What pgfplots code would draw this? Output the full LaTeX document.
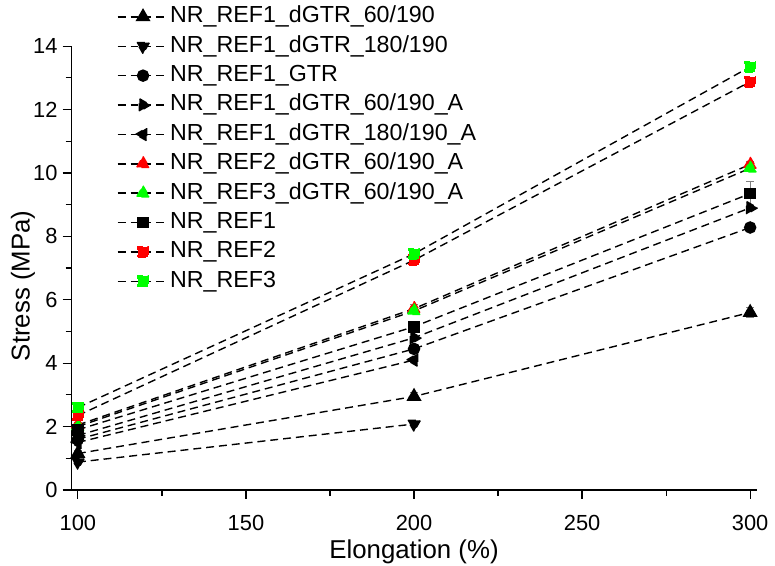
\documentclass[border=0pt]{standalone}
\usepackage{pgfplots}
\pgfplotsset{compat=1.18}
\usepackage{fontspec}
\setmainfont{Liberation Sans}
\definecolor{myred}{RGB}{255,0,0}
\definecolor{mygreen}{RGB}{0,255,0}
\begin{document}
\begin{tikzpicture}
\begin{axis}[scale only axis,width=345pt,height=223.5pt,
  xmin=98.1,xmax=301.9,ymin=0,ymax=14,
  axis x line*=bottom,axis y line*=left,
  xtick={100,150,...,300},ytick={0,2,...,14},
  minor x tick num=1,minor y tick num=1,
  tick align=outside,major tick length=4.5pt,minor tick length=3pt,
  tick style={black,line width=0.6pt},axis line style={line width=0.6pt},
  ticklabel style={font=\fontsize{11}{12}\selectfont},
  xticklabel shift=4.5pt,
  yticklabel style={xshift=1pt},
  /pgf/number format/assume math mode=true,
  xlabel={Elongation (\%)},ylabel={Stress (MPa)},
  label style={font=\fontsize{13}{15}\selectfont},
  xlabel style={inner ysep=1pt},xlabel shift=0pt,
  ylabel style={at={(ticklabel cs:0.46)},inner ysep=5.5pt},ylabel shift=-9.9pt,
  legend cell align=left,
  legend style={draw=none,fill=none,at={(0.057,1.105)},anchor=north west,
    font=\fontsize{11.7}{13}\selectfont,row sep=1.8pt,
    nodes={inner sep=0.5pt,text height=9pt,text depth=3pt}},
  legend image code/.code={\draw[mark repeat=2,mark phase=2] plot coordinates {(0cm,0cm) (0.45cm,0cm) (0.9cm,0cm)};},
  every axis plot/.append style={black,line width=0.7pt,dash pattern=on 4pt off 2.5pt,
    mark options={solid}},
  tri/.style={mark=triangle*,mark size=3.7pt},
  sq/.style={mark=square*,mark size=2.6pt},
  err/.style={error bars/.cd,y dir=both,y explicit,
    error bar style={gray,solid,line width=0.5pt},
    error mark options={rotate=90,gray,mark size=2pt,solid}}]
\addplot[tri,err] coordinates {(100,1.15) +- (0,0.1) (200,2.95) +- (0,0.12) (300,5.6) +- (0,0.15)};
\addlegendentry{NR\_REF1\_dGTR\_60/190}
\addplot[tri,mark options={rotate=180}] coordinates {(100,0.88) (200,2.08)};
\addlegendentry{NR\_REF1\_dGTR\_180/190}
\addplot[mark=*,mark size=2.8pt] coordinates {(100,1.6) (200,4.45) (300,8.28)};
\addlegendentry{NR\_REF1\_GTR}
\addplot[tri,mark options={rotate=-90}] coordinates {(100,1.72) (200,4.8) (300,8.9)};
\addlegendentry{NR\_REF1\_dGTR\_60/190\_A}
\addplot[tri,mark options={rotate=90}] coordinates {(100,1.5) (200,4.1)};
\addlegendentry{NR\_REF1\_dGTR\_180/190\_A}
\addplot[tri,mark options={fill=myred,draw=myred},err] coordinates {(100,2.05) +- (0,0.08) (200,5.72) +- (0,0.15) (300,10.27) +- (0,0.1)};
\addlegendentry{NR\_REF2\_dGTR\_60/190\_A}
\addplot[tri,mark options={fill=mygreen,draw=mygreen}] coordinates {(100,2.0) (200,5.65) (300,10.15)};
\addlegendentry{NR\_REF3\_dGTR\_60/190\_A}
\addplot[sq,err] coordinates {(100,1.9) +- (0,0.1) (200,5.15) +- (0,0.1) (300,9.35) +- (0,0.37)};
\addlegendentry{NR\_REF1}
\addplot[sq,mark options={fill=myred,draw=myred}] coordinates {(100,2.35) (200,7.25) (300,12.88)};
\addlegendentry{NR\_REF2}
\addplot[sq,mark options={fill=mygreen,draw=mygreen}] coordinates {(100,2.6) (200,7.45) (300,13.35)};
\addlegendentry{NR\_REF3}
\end{axis}
\end{tikzpicture}
\end{document}
